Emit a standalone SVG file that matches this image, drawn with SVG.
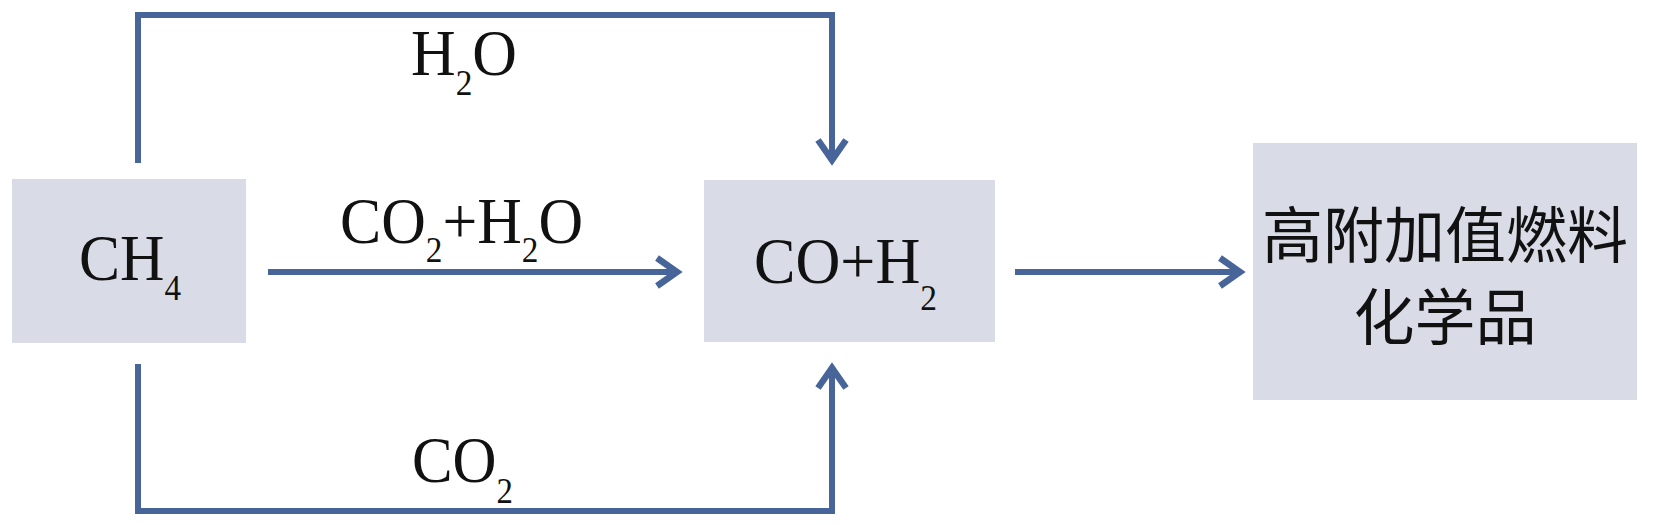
<svg xmlns="http://www.w3.org/2000/svg" width="1654" height="525" viewBox="0 0 1654 525">
<defs>
<style>
.box{fill:#D9DCE6;}
.lbl{font-family:"Liberation Serif","Times New Roman",serif;font-size:65px;fill:#111;}
.sub{font-size:35px;}
.cjk{font-family:"Noto Sans CJK SC","Noto Sans CJK JP",sans-serif;font-size:61px;fill:#111;text-anchor:middle;}
.conn{fill:none;stroke:#48659A;stroke-width:6;}
</style>
<marker id="arr" markerUnits="userSpaceOnUse" markerWidth="40" markerHeight="40" viewBox="-30 -20 40 40" refX="0" refY="0" orient="auto">
<path d="M-20,-14 L0,0 L-20,14" fill="none" stroke="#48659A" stroke-width="6.5" stroke-linejoin="miter"/>
</marker>
</defs>
<rect width="1654" height="525" fill="#ffffff"/>
<g id="connectors">
<path class="conn" d="M138,163 V15 H832 V160" marker-end="url(#arr)"/>
<path class="conn" d="M138,364 V511 H832 V368" marker-end="url(#arr)"/>
<path class="conn" d="M268,272 H677" marker-end="url(#arr)"/>
<path class="conn" d="M1015,272 H1240" marker-end="url(#arr)"/>
<text class="lbl" x="411" y="75" textLength="106" lengthAdjust="spacingAndGlyphs">H<tspan class="sub" dy="20">2</tspan><tspan dy="-20">O</tspan></text>
<text class="lbl" x="340" y="243" textLength="243" lengthAdjust="spacingAndGlyphs">CO<tspan class="sub" dy="19">2</tspan><tspan dy="-19">+H</tspan><tspan class="sub" dy="19">2</tspan><tspan dy="-19">O</tspan></text>
<text class="lbl" x="412" y="482" textLength="101" lengthAdjust="spacingAndGlyphs">CO<tspan class="sub" dy="21">2</tspan></text>
</g>
<g id="node-ch4">
<rect class="box" x="12" y="179" width="234" height="164"/>
<text class="lbl" x="79" y="280" textLength="102" lengthAdjust="spacingAndGlyphs">CH<tspan class="sub" dy="20">4</tspan></text>
</g>
<g id="node-syngas">
<rect class="box" x="704" y="180" width="291" height="162"/>
<text class="lbl" x="754" y="283" textLength="183" lengthAdjust="spacingAndGlyphs">CO+H<tspan class="sub" dy="27">2</tspan></text>
</g>
<g id="node-products">
<rect class="box" x="1253" y="143" width="384" height="257"/>
<text class="cjk" x="1445" y="258">高附加值燃料</text>
<text class="cjk" x="1445" y="340">化学品</text>
</g>
</svg>
